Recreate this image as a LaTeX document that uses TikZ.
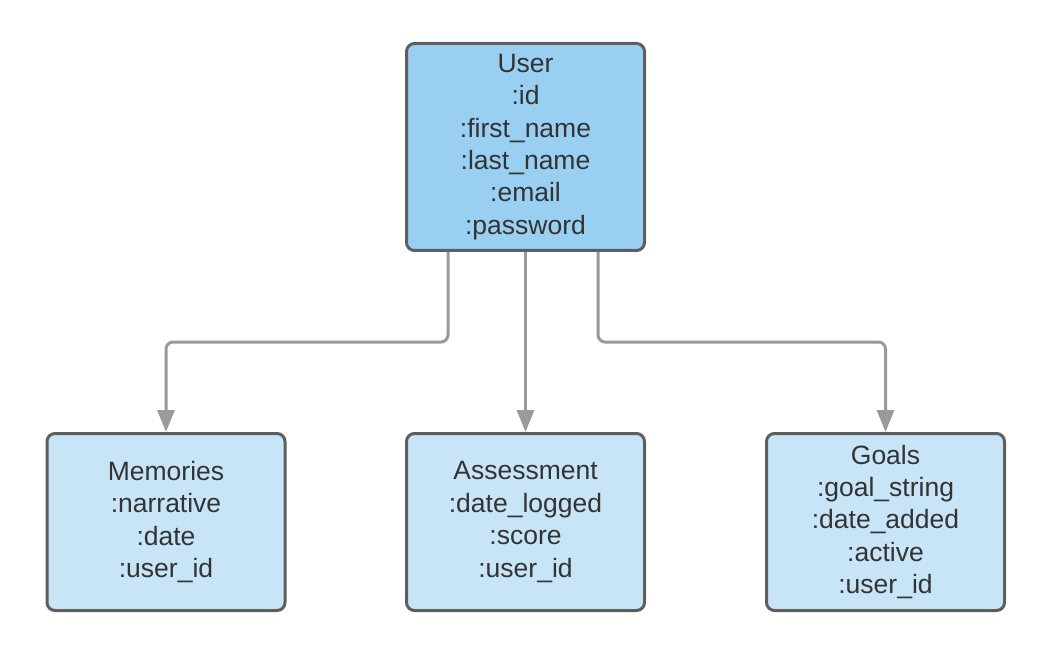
\documentclass[tikz,border=0pt]{standalone}
\usepackage{fontspec}
\setmainfont{Liberation Sans}
\usetikzlibrary{arrows.meta}
\definecolor{userfill}{HTML}{99D0F2}
\definecolor{boxfill}{HTML}{C7E5F7}
\definecolor{boxline}{HTML}{5E5E5E}
\definecolor{conn}{HTML}{9A9A9A}
\definecolor{txt}{HTML}{333333}
\tikzset{
  entity/.style={draw=boxline, line width=3pt, rounded corners=8pt, text=txt,
    align=center, minimum width=238pt, inner sep=0pt,
    font=\fontsize{26.5pt}{32.4pt}\selectfont},
  link/.style={draw=conn, line width=3pt, rounded corners=7pt,
    -{Triangle[length=22pt,width=17pt]}}
}
\begin{document}
\begin{tikzpicture}[x=1pt,y=-1pt]
\useasboundingbox (0,0) rectangle (1044,660);
\node[entity, fill=userfill, minimum height=207pt] (user) at (525.5,147)
  {User\\:id\\:first\_name\\:last\_name\\:email\\:password};
\node[entity, fill=boxfill, minimum height=177pt] (mem) at (166,522)
  {Memories\\:narrative\\:date\\:user\_id};
\node[entity, fill=boxfill, minimum height=177pt] (ass) at (525.5,522)
  {Assessment\\:date\_logged\\:score\\:user\_id};
\node[entity, fill=boxfill, minimum height=177pt] (goal) at (885.5,522)
  {Goals\\:goal\_string\\:date\_added\\:active\\:user\_id};
\coordinate (u1) at (448,252);
\coordinate (u3) at (598,252);
\draw[link] (u1) |- (300,342) -| (mem.north);
\draw[link] (user.south) -- (ass.north);
\draw[link] (u3) |- (700,342) -| (goal.north);
\end{tikzpicture}
\end{document}
